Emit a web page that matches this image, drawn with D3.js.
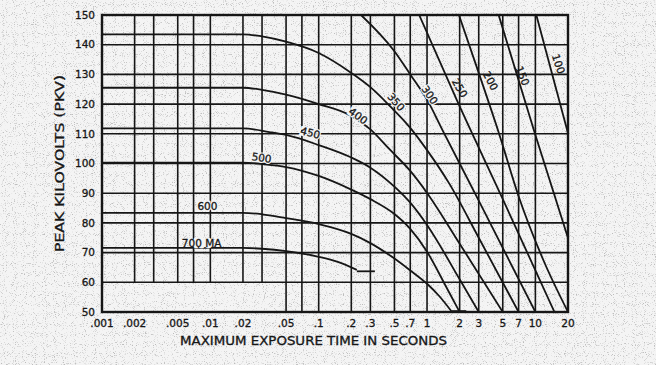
<!DOCTYPE html>
<html>
<head>
<meta charset="utf-8">
<script src="https://cdn.jsdelivr.net/npm/d3@7"></script>
<style>
  html, body { margin: 0; padding: 0; background: #eeeeee; }
  svg { display: block; }
</style>
</head>
<body>
<svg id="chart" width="656" height="365"></svg>
<script>
// tube rating curves: [exposure time (s), peak kV]
const ma700 = [[0.001, 71.6], [0.02, 71.6], [0.03, 71.3], [0.05, 70.5], [0.1, 68.6], [0.15, 66.9], [0.225, 64.2]];
const ma600 = [[0.001, 83.4], [0.02, 83.4], [0.03, 82.9], [0.05, 81.6], [0.1, 79.6], [0.2, 76.3], [0.3, 73.2], [0.5, 68], [0.7, 64], [1, 59.5], [1.3, 55.3], [1.7, 50]];
const ma500 = [[0.001, 100.3], [0.02, 100.3], [0.03, 99.8], [0.05, 98.8], [0.1, 95.8], [0.2, 91.2], [0.3, 88], [0.5, 83], [0.7, 78], [1, 70.3], [1.5, 58.5], [2, 50]];
const ma450 = [[0.001, 111.8], [0.02, 111.8], [0.035, 110.6], [0.05, 109.6], [0.1, 106.2], [0.2, 102], [0.3, 98.6], [0.5, 92.2], [0.7, 86.8], [1, 79.3], [2, 61], [3, 50]];
const ma400 = [[0.001, 125.5], [0.02, 125.5], [0.03, 124.8], [0.05, 123.2], [0.1, 120], [0.2, 116], [0.3, 111.5], [0.45, 104.8], [0.7, 97.5], [1, 90.1], [2, 73], [5, 50]];
const ma350 = [[0.001, 143.5], [0.02, 143.5], [0.03, 142.8], [0.05, 141], [0.1, 137.2], [0.2, 130.5], [0.3, 125.7], [0.45, 119.5], [0.7, 112], [1, 104.5], [1.6, 93.3], [3, 75], [7, 50]];
const ma300 = [[0.246, 150], [0.5, 137.8], [0.7, 130], [1, 121.5], [1.4, 111], [3, 87.5], [10, 50]];
const ma250 = [[0.846, 150], [1.88, 121.4], [5, 88], [15, 50]];
const ma200 = [[1.97, 150], [3, 130.5], [4.6, 110.3], [7, 89], [12, 67], [20, 50]];
const ma150 = [[4.58, 150], [10, 109.6], [20, 74.9]];
const ma100 = [[10.2, 150], [20, 110.2]];

// short end marks drawn where a curve stops
const endTicks = [
    {ma: "700", from: 0.225, to: 0.33, kv: 63.7},
    {ma: "600", from: 1.7, to: 2.3, kv: 50.3}
];

const curveLabels = ["700 MA", "600", "500", "450", "400", "350", "300", "250", "200", "150", "100"];
const curveData = [ma700, ma600, ma500, ma450, ma400, ma350, ma300, ma250, ma200, ma150, ma100];

const gridTimes = [0.002, 0.003, 0.005, 0.007, 0.01, 0.02, 0.03, 0.05, 0.07, 0.1, 0.2, 0.3, 0.5, 0.7, 1, 2, 3, 5, 7, 10];
const xTickValues = [0.001, 0.002, 0.005, 0.01, 0.02, 0.05, 0.1, 0.2, 0.3, 0.5, 0.7, 1, 2, 3, 5, 7, 10, 20];
const xTickLabels = [".001", ".002", ".005", ".01", ".02", ".05", ".1", ".2", ".3", ".5", ".7", "1", "2", "3", "5", "7", "10", "20"];
const kvTicks = [50, 60, 70, 80, 90, 100, 110, 120, 130, 140, 150];

const width = 656;
const height = 365;
const ink = "#161616";
const paper = "#f4f4f4";

const x = d3.scaleLog().domain([0.001, 20]).range([102, 568]);
const y = d3.scaleLinear().domain([50, 150]).range([312, 15]);

const svg = d3.select("#chart");

// paper with scan grain
const defs = svg.append("defs");
const grain = defs.append("filter").attr("id", "grain")
    .attr("x", 0).attr("y", 0).attr("width", "100%").attr("height", "100%");
grain.append("feTurbulence")
    .attr("type", "fractalNoise")
    .attr("baseFrequency", 1.1)
    .attr("numOctaves", 1)
    .attr("seed", 11);
grain.append("feColorMatrix")
    .attr("type", "matrix")
    .attr("values", "0 0 0 0 0.5  0 0 0 0 0.5  0 0 0 0 0.5  5 0 0 0 -2.85");

defs.append("clipPath").attr("id", "plot-clip")
    .append("rect")
    .attr("x", x.range()[0]).attr("y", y.range()[1])
    .attr("width", x.range()[1] - x.range()[0])
    .attr("height", y.range()[0] - y.range()[1]);

svg.append("rect").attr("width", width).attr("height", height).attr("fill", paper);
svg.append("rect").attr("width", width).attr("height", height).attr("filter", "url(#grain)");

// grid
const grid = svg.append("g").attr("stroke", ink).attr("stroke-width", 1.6);

grid.selectAll(".h")
    .data(kvTicks.slice(1, -1))
    .enter().append("line")
    .attr("x1", x.range()[0]).attr("x2", x.range()[1])
    .attr("y1", d => y(d)).attr("y2", d => y(d));

// short-time verticals stop at 60 kV
grid.selectAll(".v")
    .data(gridTimes)
    .enter().append("line")
    .attr("x1", d => x(d)).attr("x2", d => x(d))
    .attr("y1", y(150))
    .attr("y2", d => d <= 0.03 ? y(60) : y(50));

// frame
svg.append("rect")
    .attr("x", x.range()[0]).attr("y", y.range()[1])
    .attr("width", x.range()[1] - x.range()[0])
    .attr("height", y.range()[0] - y.range()[1])
    .attr("fill", "none")
    .attr("stroke", ink)
    .attr("stroke-width", 2.4);

// curves
const line = d3.line()
    .x(d => x(d[0]))
    .y(d => y(d[1]))
    .curve(d3.curveMonotoneX);

const curves = svg.append("g").attr("clip-path", "url(#plot-clip)");

curves.selectAll("path")
    .data(curveData)
    .enter().append("path")
    .attr("d", d => line(d))
    .attr("fill", "none")
    .attr("stroke", ink)
    .attr("stroke-width", 1.8);

curves.selectAll(".endtick")
    .data(endTicks)
    .enter().append("line")
    .attr("x1", d => x(d.from)).attr("x2", d => x(d.to))
    .attr("y1", d => y(d.kv)).attr("y2", d => y(d.kv))
    .attr("stroke", ink)
    .attr("stroke-width", 1.8);

// curve labels, placed in data space beside each curve
const labelSpots = [
    {t: 0.0083, kv: 73.2, rot: 0},
    {t: 0.0094, kv: 85.7, rot: 0},
    {t: 0.0297, kv: 101.9, rot: 8},
    {t: 0.0837, kv: 110.3, rot: 15},
    {t: 0.231, kv: 116, rot: 36},
    {t: 0.518, kv: 120.7, rot: 48},
    {t: 1.06, kv: 123.1, rot: 56},
    {t: 2.0, kv: 125.4, rot: 60},
    {t: 3.85, kv: 127.8, rot: 62},
    {t: 7.6, kv: 129.5, rot: 68},
    {t: 16.3, kv: 133.5, rot: 72}
];

const labelPlace = (d, i) => `translate(${x(labelSpots[i].t)},${y(labelSpots[i].kv)}) rotate(${labelSpots[i].rot})`;

const labels = svg.append("g")
    .attr("font-family", "'DejaVu Sans', sans-serif")
    .attr("font-size", 10.5)
    .attr("text-anchor", "middle");

// knock the curve out behind the rotated labels
labels.selectAll(".halo")
    .data(curveLabels)
    .enter().append("text")
    .filter((d, i) => i > 3)
    .attr("transform", labelPlace)
    .attr("dy", "0.35em")
    .attr("fill", paper)
    .attr("stroke", paper)
    .attr("stroke-width", 2.6)
    .text(d => d);

labels.selectAll(".lab")
    .data(curveLabels)
    .enter().append("text")
    .attr("transform", labelPlace)
    .attr("dy", "0.35em")
    .attr("fill", ink)
    .attr("stroke", ink)
    .attr("stroke-width", 0.3)
    .text(d => d);

// axis tick labels, slightly heavy like the printed original
svg.append("g")
    .attr("font-family", "'DejaVu Sans', sans-serif")
    .attr("font-size", 10.5)
    .attr("fill", ink)
    .attr("stroke", ink)
    .attr("stroke-width", 0.3)
    .attr("text-anchor", "end")
    .selectAll("text")
    .data(kvTicks)
    .enter().append("text")
    .attr("x", 95)
    .attr("y", d => y(d))
    .attr("dy", "0.36em")
    .text(d => d);

svg.append("g")
    .attr("font-family", "'DejaVu Sans', sans-serif")
    .attr("font-size", 10.5)
    .attr("fill", ink)
    .attr("stroke", ink)
    .attr("stroke-width", 0.3)
    .attr("text-anchor", "middle")
    .selectAll("text")
    .data(xTickValues)
    .enter().append("text")
    .attr("x", d => x(d))
    .attr("y", 327)
    .text((d, i) => xTickLabels[i]);

svg.append("text")
    .attr("x", 180)
    .attr("y", 345)
    .attr("font-family", "'DejaVu Sans', sans-serif")
    .attr("font-size", 12)
    .attr("fill", ink)
    .attr("stroke", ink)
    .attr("stroke-width", 0.3)
    .attr("textLength", 267)
    .attr("lengthAdjust", "spacingAndGlyphs")
    .text("MAXIMUM EXPOSURE TIME IN SECONDS");

svg.append("text")
    .attr("transform", "translate(64,163.5) rotate(-90)")
    .attr("text-anchor", "middle")
    .attr("font-family", "'DejaVu Sans', sans-serif")
    .attr("font-size", 12)
    .attr("fill", ink)
    .attr("stroke", ink)
    .attr("stroke-width", 0.3)
    .attr("textLength", 177)
    .attr("lengthAdjust", "spacingAndGlyphs")
    .text("PEAK KILOVOLTS (PKV)");
</script>
</body>
</html>
